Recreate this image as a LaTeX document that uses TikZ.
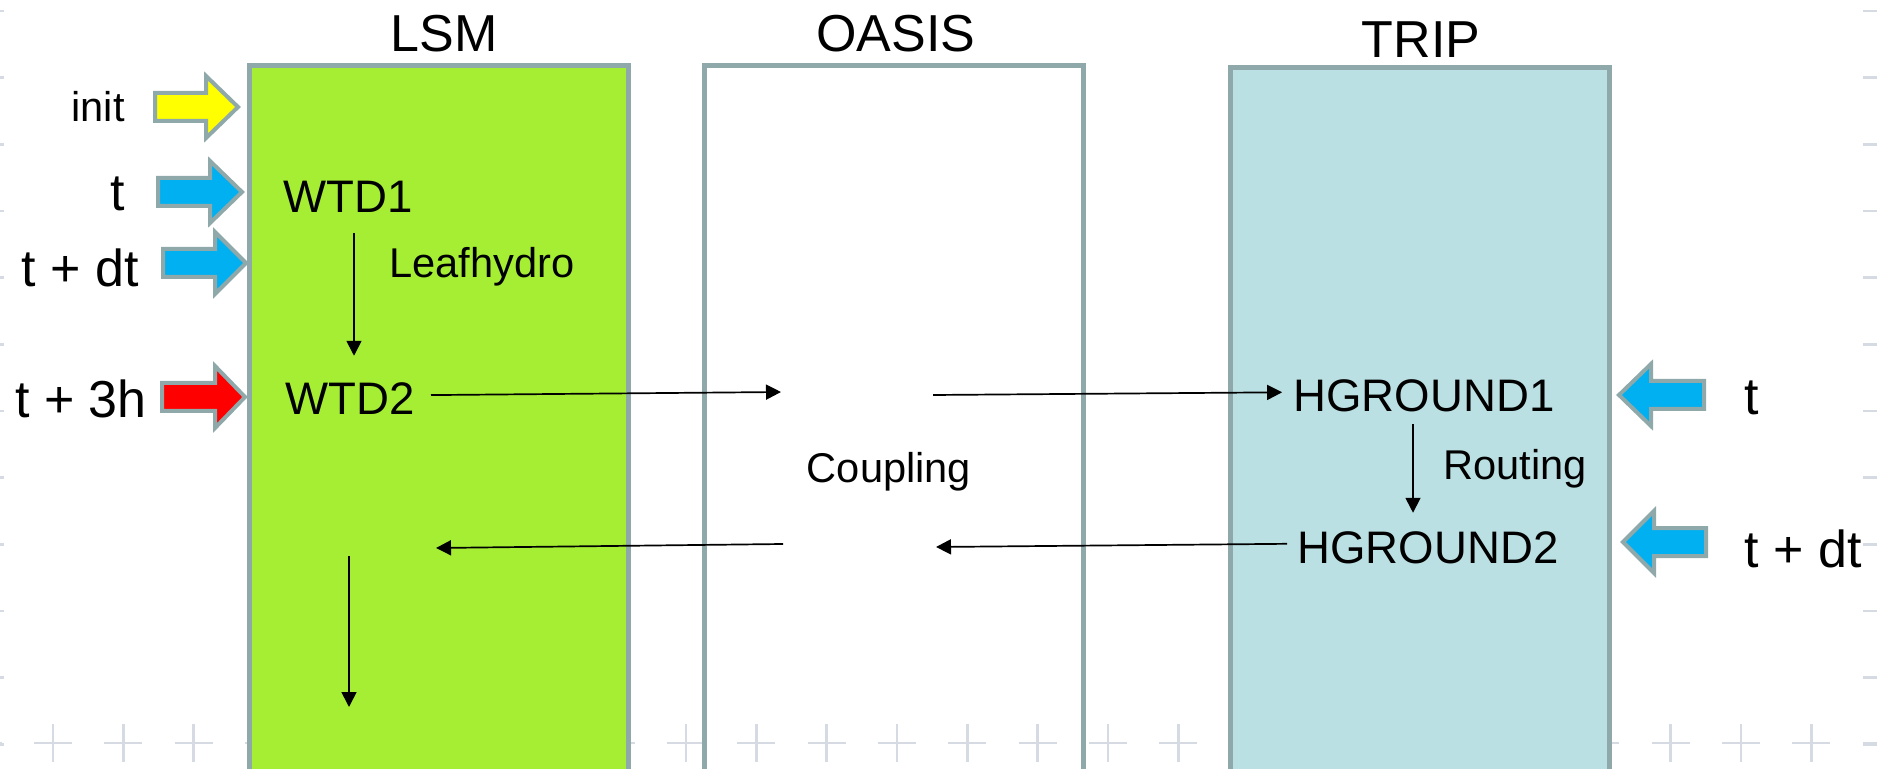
\documentclass[tikz,border=0pt]{standalone}
\usepackage{fontspec}
\setmainfont{Liberation Sans}
\usetikzlibrary{arrows.meta}
\definecolor{lsmgreen}{RGB}{165,238,52}
\definecolor{tripblue}{RGB}{187,224,227}
\definecolor{boxline}{RGB}{143,168,170}
\definecolor{arrblue}{RGB}{0,176,240}
\definecolor{arrred}{RGB}{255,0,0}
\definecolor{arryellow}{RGB}{255,255,0}
\definecolor{gridmark}{RGB}{214,218,226}
\newcommand{\blockarrow}[5]{% color, tail x, head-base x, tip x, centre y
  \draw[blockarr, fill=#1] (#2,#5-14) -- (#3,#5-14) -- (#3,#5-31) -- (#4,#5)
    -- (#3,#5+31) -- (#3,#5+14) -- (#2,#5+14) -- cycle;}
\tikzset{
  colbox/.style={draw=boxline, line width=2.5pt, minimum width=189.5pt,
    minimum height=367pt, inner sep=0pt, outer sep=0pt},
  blockarr/.style={draw=boxline, line width=2pt, line join=miter},
  conn/.style={line width=0.85pt, -{Triangle[length=7.5pt,width=7.5pt]}},
  gridm/.style={draw=gridmark, line width=1.4pt},
  txt/.style={inner sep=0pt, anchor=base},
  big/.style={txt, font=\fontsize{26}{30}\selectfont},
  mid/.style={txt, font=\fontsize{22.8}{27}\selectfont},
  small/.style={txt, font=\fontsize{20.8}{25}\selectfont},
}
\begin{document}
\begin{tikzpicture}[x=0.5pt,y=-0.5pt]
\useasboundingbox (0,0) rectangle (1877,769);
\clip (0,0) rectangle (1877,769);
\fill[white] (0,0) rectangle (1877,769);
% faint background marks
\foreach \k in {-1,...,26} {
  \draw[gridm] ({53+70.33*\k-19},743) -- ++(38,0);
  \draw[gridm] ({53+70.33*\k},724) -- ++(0,38);
}
\foreach \k in {0,...,11} {
  \draw[gridm] (1863,{11+66.67*\k}) -- (1877,{11+66.67*\k});
  \draw[gridm] (0,{11+66.67*\k}) -- (4,{11+66.67*\k});
}
% columns
\node[colbox, fill=lsmgreen, anchor=north] (lsm) at (439,66) {};
\node[colbox, anchor=north] (oasis) at (893.5,66) {};
\node[colbox, fill=tripblue, anchor=north] (trip) at (1419.5,68) {};
% titles
\node[big] (tlsm) at (444,52) {LSM};
\node[big] (toasis) at (896,52) {OASIS};
\node[big] (ttrip) at (1421,58) {TRIP};
% left inputs
\node[small] (init) at (98,122) {init};
\node[big] (lt) at (118,211) {t};
\node[big] (ltdt) at (80,287) {t + dt};
\node[big] (lt3h) at (81,418) {t + 3h};
\blockarrow{arryellow}{155}{206}{238}{107}
\blockarrow{arrblue}{158}{210}{242}{192}
\blockarrow{arrblue}{163}{215}{246}{263}
\blockarrow{arrred}{162}{215}{245}{397}
% right inputs
\node[big] (rt) at (1752,415) {t};
\node[big] (rtdt) at (1803,567) {t + dt};
\blockarrow{arrblue}{1704}{1651}{1619}{395}
\blockarrow{arrblue}{1706}{1654}{1623}{542}
% inner labels
\node[mid] (wtd1) at (348,213) {WTD1};
\node[mid] (wtd2) at (350,415) {WTD2};
\node[small] (leaf) at (482,278) {Leafhydro};
\node[small] (coup) at (889,482) {Coupling};
\node[mid] (hg1) at (1424,412) {HGROUND1};
\node[mid] (hg2) at (1428,563) {HGROUND2};
\node[small] (rout) at (1515,480) {Routing};
% free ends
\coordinate (o1) at (781,392);
\coordinate (o2) at (933,395);
\coordinate (o3) at (936,547);
\coordinate (o4) at (783,544);
\coordinate (l1) at (436,548);
\coordinate (l2) at (349,556);
\coordinate (l3) at (349,707);
% connectors
\draw[conn] ([xshift=3pt,yshift=-10pt]wtd1.south) -- ([xshift=2pt,yshift=13.5pt]wtd2.north);
\draw[conn] ([xshift=8pt,yshift=2pt]wtd2.east) -- (o1);
\draw[conn] (o2) -- ([xshift=-5.5pt,yshift=2pt]hg1.west);
\draw[conn] ([xshift=-5.5pt,yshift=-5.5pt]hg1.south) -- ([xshift=-7.5pt,yshift=9pt]hg2.north);
\draw[conn] ([xshift=-5pt,yshift=1.75pt]hg2.west) -- (o3);
\draw[conn] (o4) -- (l1);
\draw[conn] (l2) -- (l3);
\end{tikzpicture}
\end{document}
